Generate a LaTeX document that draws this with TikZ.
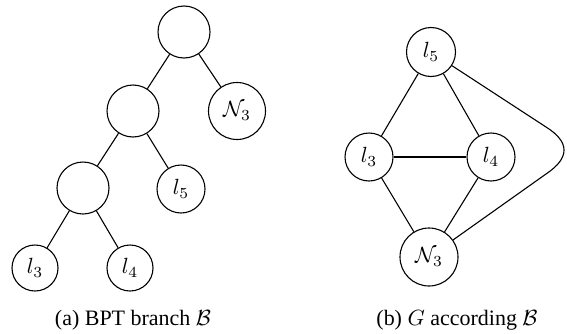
\documentclass[tikz,border=0pt]{standalone}
\usepackage{fontspec}
\setmainfont{Liberation Serif}
\begin{document}
\begin{tikzpicture}[x=0.455pt,y=-0.455pt,
  vtx/.style={draw,circle,line width=0.5pt,inner sep=0pt,minimum size=#1*0.455pt},
  vtx/.default=48,
  edge/.style={line width=0.5pt},
  captext/.style={font=\fontsize{10}{12}\selectfont}]
\useasboundingbox (0,0) rectangle (567,333);
% (a) tree
\node[vtx=52] (r) at (184,32) {};
\node[vtx=52] (m) at (133,111) {};
\node[vtx=57] (na) at (237,111) {$\mathcal{N}_3$};
\node[vtx=52] (lo) at (83,188) {};
\node[vtx=48] (l5a) at (181,189) {$l_5$};
\node[vtx=46] (l3a) at (35,268) {$l_3$};
\node[vtx=46] (l4a) at (130,268) {$l_4$};
\draw[edge] (r) -- (m);
\draw[edge] (r) -- (na);
\draw[edge] (m) -- (lo);
\draw[edge] (m) -- (l5a);
\draw[edge] (lo) -- (l3a);
\draw[edge] (lo) -- (l4a);
\node[captext] (capa) at (133,320) {(a) BPT branch $\mathcal{B}$};
% (b) graph
\node[vtx=49] (l5b) at (431,52) {$l_5$};
\node[vtx=48] (l3b) at (369,157) {$l_3$};
\node[vtx=48] (l4b) at (491,157) {$l_4$};
\node[vtx=58] (nb) at (429,257) {$\mathcal{N}_3$};
\draw[edge] (l5b) -- (l3b);
\draw[edge] (l5b) -- (l4b);
\draw[edge] (l3b) -- (l4b);
\draw[edge] (l3b) -- (nb);
\draw[edge] (l4b) -- (nb);
\coordinate (ca) at (546,127);
\coordinate (cb) at (546,174);
\draw[edge] (l5b) -- (ca) .. controls (570,142) and (570,158) .. (cb) -- (nb);
\node[captext] (capb) at (457,320) {(b) $G$ according $\mathcal{B}$};
\end{tikzpicture}
\end{document}
